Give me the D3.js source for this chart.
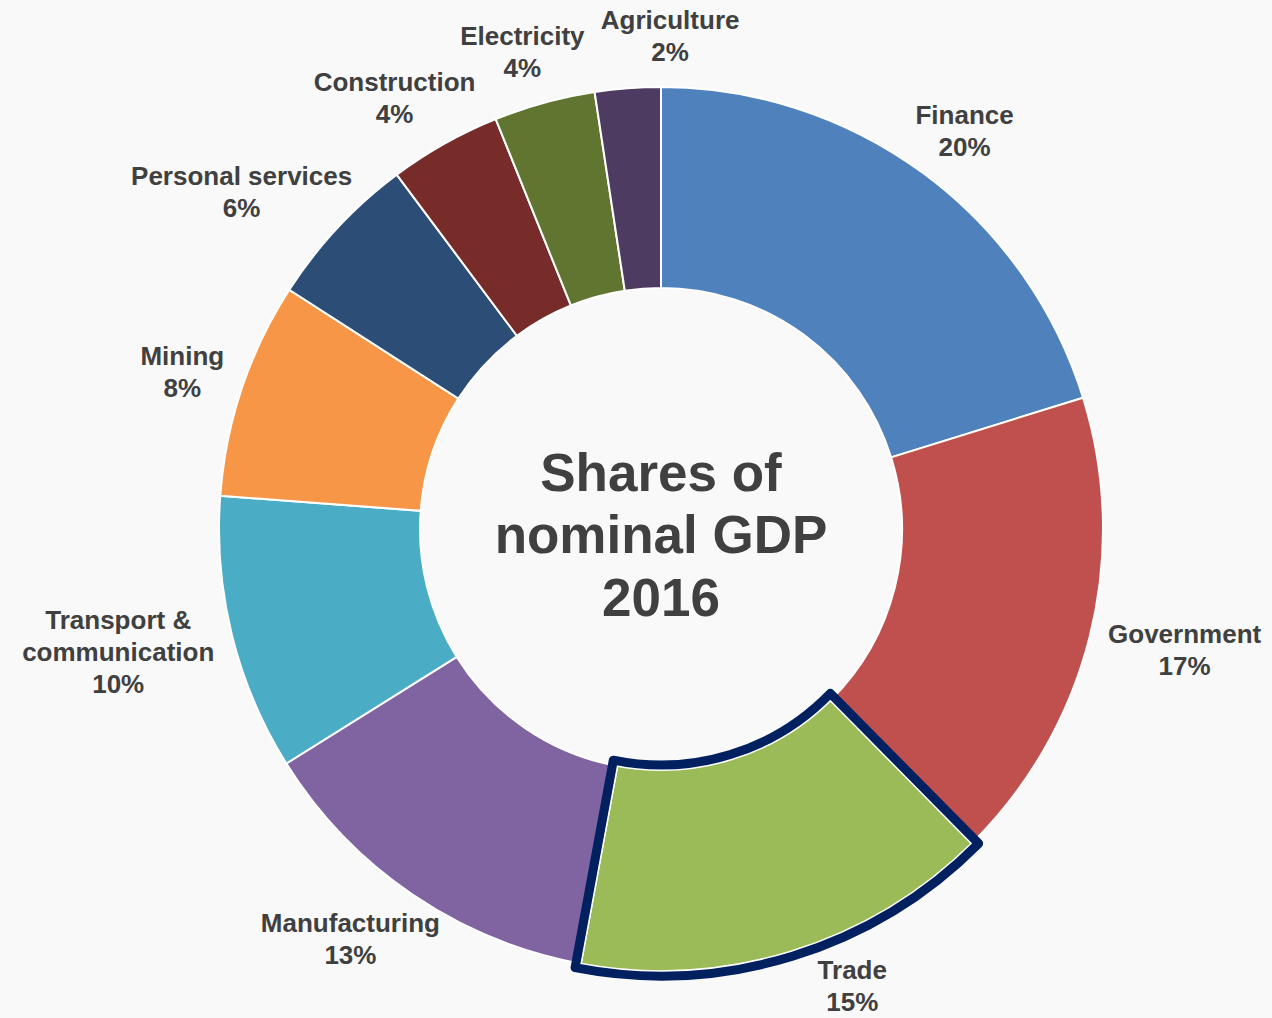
<!DOCTYPE html>
<html lang="en">
<head>
    <meta charset="UTF-8">
    <title>Shares of nominal GDP 2016</title>
    <script src="https://d3js.org/d3.v7.min.js"></script>
    <style>
        body { margin: 0; background: #f9f9f9; }
        svg { display: block; }
        text { font-family: "Liberation Sans", Arial, sans-serif; font-weight: bold; fill: #404040; }
    </style>
</head>
<body>
    <svg id="chart" width="1272" height="1018"></svg>

    <script>
        // sectors, clockwise from 12 o'clock
        const categories = ["Finance", "Government", "Trade", "Manufacturing", "Transport &\ncommunication",
                            "Mining", "Personal services", "Construction", "Electricity", "Agriculture"];
        const shares = [20.2, 17.4, 15.3, 13.2, 10.1, 7.9, 5.7, 4.1, 3.7, 2.4];
        const colors = ["#4f81bd", "#c0504d", "#9bbb59", "#8064a2", "#4bacc6",
                        "#f79646", "#2c4d75", "#772c2a", "#5f7530", "#4d3b62"];
        const highlighted = "Trade";
        const titleLines = ["Shares of", "nominal GDP", "2016"];

        const width = 1272, height = 1018;
        const cx = 661, cy = 529;
        const outerR = 442, innerR = 241;
        const labelGap = 21;      // distance from ring to label box
        const lineH = 32;         // label line height
        const outlinePad = 5;     // offset of the highlight outline

        const svg = d3.select("#chart");
        svg.append("rect").attr("width", width).attr("height", height).attr("fill", "#f9f9f9");

        const data = categories.map((c, i) => ({ name: c, value: shares[i], color: colors[i] }));
        const arcs = d3.pie().sort(null).value(d => d.value)(data);
        const arc = d3.arc().innerRadius(innerR).outerRadius(outerR);

        const g = svg.append("g").attr("transform", `translate(${cx},${cy})`);

        g.selectAll("path.slice")
            .data(arcs)
            .join("path")
            .attr("class", "slice")
            .attr("d", arc)
            .attr("fill", d => d.data.color)
            .attr("stroke", "#ffffff")
            .attr("stroke-width", 2);

        // outline around the highlighted slice, drawn a few px outside its edges
        function outlinePath(p, pad) {
            const ro = outerR + pad, ri = innerR - pad;
            const a0o = p.startAngle - Math.asin(pad / ro), a1o = p.endAngle + Math.asin(pad / ro);
            const a0i = p.startAngle - Math.asin(pad / ri), a1i = p.endAngle + Math.asin(pad / ri);
            const path = d3.path();
            const pt = (r, a) => [r * Math.sin(a), -r * Math.cos(a)];
            path.moveTo(...pt(ro, a0o));
            path.arc(0, 0, ro, a0o - Math.PI / 2, a1o - Math.PI / 2, false);
            path.lineTo(...pt(ri, a1i));
            path.arc(0, 0, ri, a1i - Math.PI / 2, a0i - Math.PI / 2, true);
            path.closePath();
            return path.toString();
        }

        g.selectAll("path.outline")
            .data(arcs.filter(d => d.data.name === highlighted))
            .join("path")
            .attr("class", "outline")
            .attr("d", d => outlinePath(d, outlinePad))
            .attr("fill", "none")
            .attr("stroke", "#002060")
            .attr("stroke-width", 9)
            .attr("stroke-linejoin", "round");

        // centre title
        g.append("text")
            .attr("text-anchor", "middle")
            .style("font-size", "53px")
            .selectAll("tspan")
            .data(titleLines)
            .join("tspan")
            .attr("x", 0)
            .attr("y", (d, i) => (i - 1) * 62.5 + 24)
            .text(d => d);

        // data labels, placed outside the ring along each slice bisector
        const boxes = [];
        arcs.forEach(p => {
            const lines = p.data.name.split("\n").concat(Math.round(p.data.value) + "%");
            const lab = g.append("g").attr("class", "label");
            const t = lab.append("text").attr("text-anchor", "middle").style("font-size", "26px");
            t.selectAll("tspan")
                .data(lines)
                .join("tspan")
                .attr("x", 0)
                .attr("y", (d, i) => (i - (lines.length - 1) / 2) * lineH + 9.5)
                .text(d => d);

            const w = t.node().getBBox().width;
            const h = lines.length * lineH;
            let a = (p.startAngle + p.endAngle) / 2;
            const place = ang => {
                const r = outerR + labelGap;
                return [r * Math.sin(ang) + Math.sin(ang) * w / 2,
                        -r * Math.cos(ang) - Math.cos(ang) * h / 2];
            };
            let [x, y] = place(a);
            // slide along the ring if the label would fall off the bottom
            let n = 0;
            while (cy + y + h / 2 - 5 > height - 5 && n < 80) {
                a += a < Math.PI ? -Math.PI / 360 : Math.PI / 360;
                [x, y] = place(a);
                n++;
            }
            // push sideways away from earlier labels it would overlap
            const hh = h / 2 - 10;
            boxes.forEach(b => {
                const overlapX = Math.abs(x - b.x) < (w + b.w) / 2 + 16;
                const overlapY = Math.abs(y - b.y) < hh + b.hh;
                if (overlapX && overlapY) {
                    x = x > b.x ? b.x + b.w / 2 + 16 + w / 2 : b.x - b.w / 2 - 16 - w / 2;
                }
            });
            boxes.push({ x, y, w, hh });
            lab.attr("transform", `translate(${x},${y})`);
        });
    </script>
</body>
</html>
